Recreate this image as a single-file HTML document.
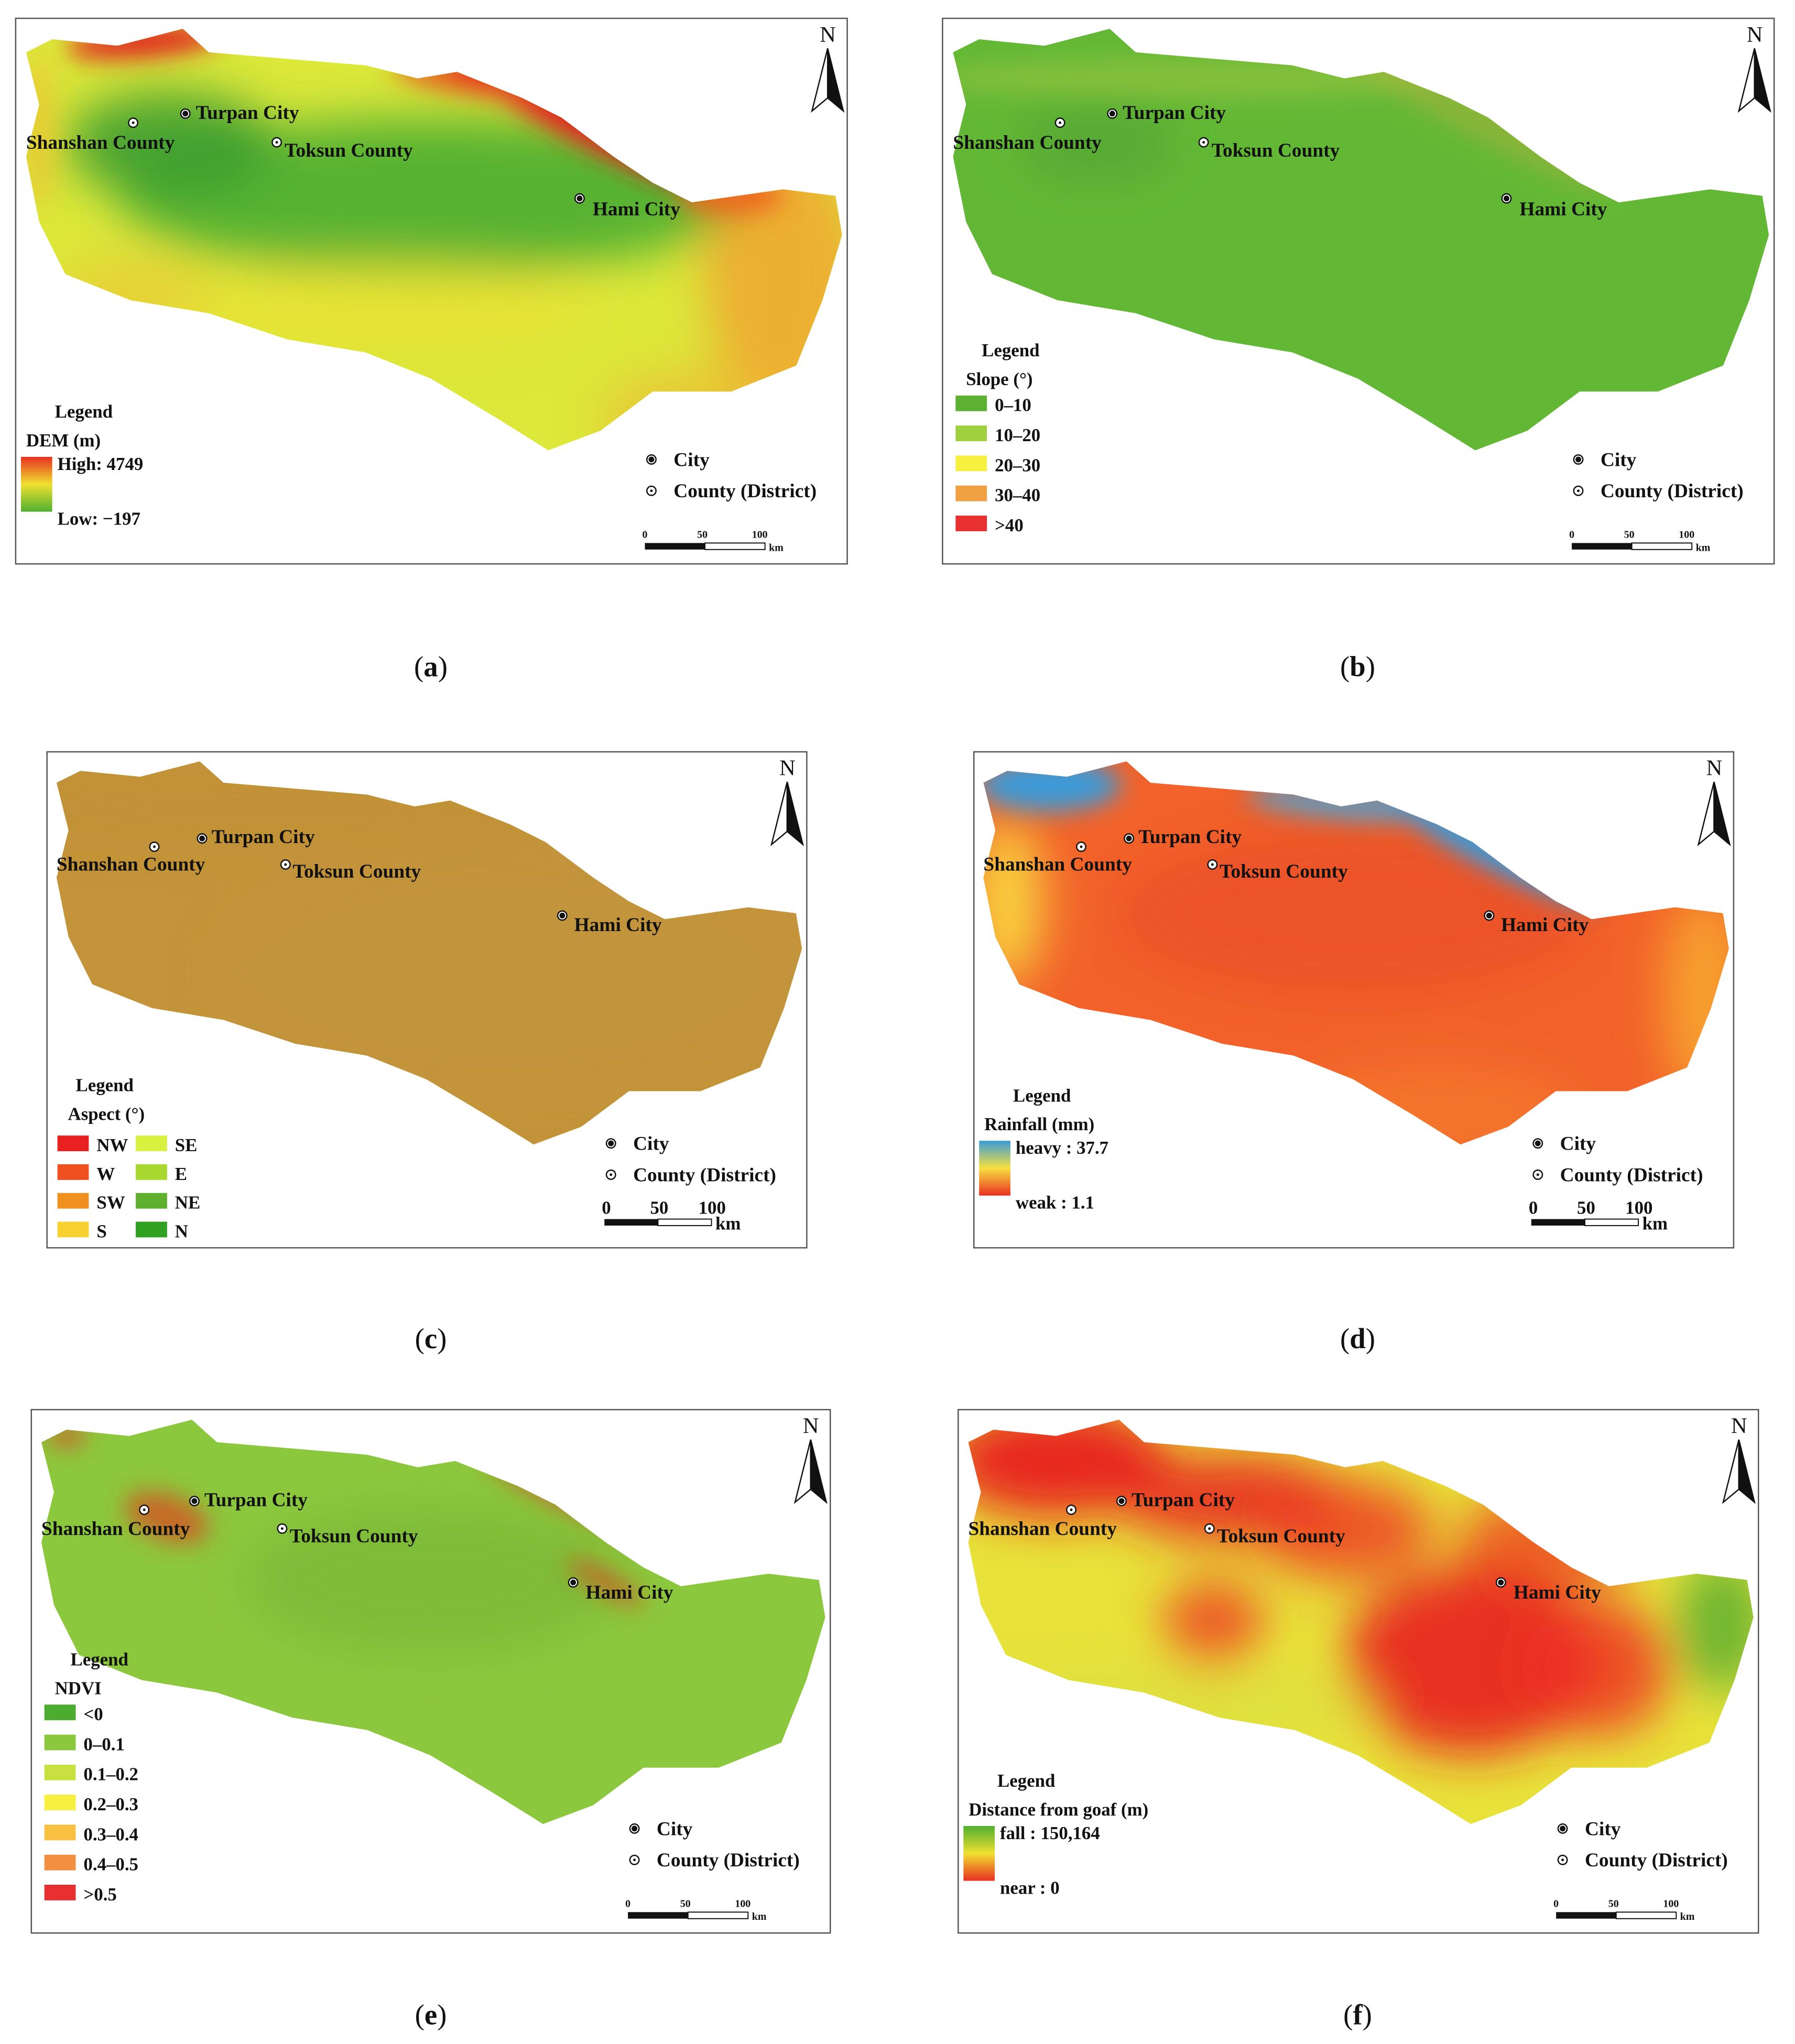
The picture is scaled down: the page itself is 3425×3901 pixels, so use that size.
<!DOCTYPE html>
<html><head><meta charset="utf-8"><style>
html,body{margin:0;padding:0;background:#fff}
svg{display:block}
text{font-family:"Liberation Serif",serif;font-weight:bold;fill:#111}
</style></head><body>
<svg id="fig" width="3425" height="3901" viewBox="0 0 1375 1566" xmlns="http://www.w3.org/2000/svg">
<defs>
<filter id="blur" x="-50%" y="-50%" width="200%" height="200%"><feGaussianBlur stdDeviation="18"/></filter>
<filter id="blur2" x="-50%" y="-50%" width="200%" height="200%"><feGaussianBlur stdDeviation="6"/></filter>
<filter id="blur3" x="-50%" y="-50%" width="200%" height="200%"><feGaussianBlur stdDeviation="9"/></filter>
</defs>
</svg>
<script>
const NS='http://www.w3.org/2000/svg';
const svg=document.getElementById('fig');
const shapeA=[[20,40],[40,30],[90,35],[140,22],[160,40],[220,45],[280,50],[320,60],[350,55],[400,75],[430,90],[470,120],[500,140],[530,155],[600,145],[640,150],[645,180],[630,230],[610,280],[560,300],[500,300],[460,330],[420,345],[380,320],[330,290],[280,270],[220,260],[160,240],[100,230],[50,210],[30,170],[20,120],[30,80]];
const panels=[
 {id:'a',x:12,y:14,w:637,h:418,cx:330,cy:518,base:'#dce83a'},
 {id:'b',x:722,y:14,w:637,h:418,cx:1040,cy:518,base:'#62b835'},
 {id:'c',x:36,y:576,w:582,h:380,cx:330,cy:1033,base:'#c4943a'},
 {id:'d',x:746,y:576,w:582,h:380,cx:1040,cy:1033,base:'#f2622a'},
 {id:'e',x:24,y:1080,w:612,h:401,cx:330,cy:1551,base:'#8cc83e'},
 {id:'f',x:734,y:1080,w:613,h:401,cx:1040,cy:1551,base:'#e8e23a'}];
// blobs: [x, y, rx, ry, color, opacity, angle, sharp]
const blobs={
 a:[[330,150,240,60,'#48ac30',0.9,0,0],[130,110,80,40,'#3a9c30',0.9,0,0],[600,210,60,100,'#f0a030',0.8,0,0],[300,235,160,35,'#eee030',0.6,0,0],
    [440,92,110,14,'#e02020',1,28,1],[360,62,60,10,'#e84020',0.9,10,1],[110,32,60,12,'#e02820',1,-5,1],[560,150,40,14,'#f06020',0.9,0,1],[560,320,100,40,'#f0b030',0.6,0,0],[100,225,60,25,'#f0c030',0.6,0,0],[30,100,14,60,'#f0c030',0.6,0,1]],
 b:[[200,60,200,15,'#a8c840',0.5,0,1],[420,90,120,14,'#c8b040',0.4,28,1],[130,110,60,30,'#4a9c30',0.5,0,0]],
 c:[[200,60,300,30,'#b88a30',0.3,0,0],[400,200,250,100,'#c09840',0.2,0,0]],
 d:[[75,42,60,22,'#3a9ad8',1,0,1],[320,58,80,12,'#48a4d8',0.9,5,1],[445,95,100,16,'#3a9ad8',1,28,1],[40,140,30,70,'#f8e040',0.9,0,0],[625,220,35,90,'#f8b030',0.8,0,0],[400,320,120,40,'#f89030',0.4,0,0],[330,150,200,70,'#e04020',0.4,0,0]],
 e:[[330,150,150,60,'#70b030',0.5,0,0],[440,82,70,10,'#e04020',0.8,25,1],[120,100,35,18,'#e04020',0.7,20,1],[470,152,35,8,'#e04020',0.7,30,1],[40,35,15,8,'#e04020',0.8,0,1]],
 f:[[90,55,90,45,'#e82020',0.95,0,0],[230,85,90,35,'#e82020',0.85,0,0],[320,110,70,40,'#ee3a20',0.8,0,0],[215,185,40,35,'#ee3a20',0.8,0,0],[420,215,100,75,'#e82020',0.9,0,0],[520,220,60,55,'#ee3020',0.8,0,0],[480,120,70,40,'#ee3020',0.7,0,0],[620,185,35,55,'#60b030',0.9,0,0],[150,250,200,30,'#d8e040',0.6,0,0]]};
const places=[
 {name:'Turpan City',dx:130,dy:73,lx:138,ly:77,city:true},
 {name:'Shanshan County',dx:90,dy:80,lx:8,ly:100,city:false},
 {name:'Toksun County',dx:200,dy:95,lx:206,ly:106,city:false},
 {name:'Hami City',dx:432,dy:138,lx:442,ly:151,city:true}];
function el(tag,attrs,parent){const e=document.createElementNS(NS,tag);for(const k in attrs)e.setAttribute(k,attrs[k]);(parent||svg).appendChild(e);return e;}
function txt(s,x,y,size,parent){const t=el('text',{x:x,y:y,'font-size':size},parent);t.textContent=s;return t;}
const legends={
 a:{title:['Legend','DEM (m)'],type:'ramp',stops:['#e83020','#f0e030','#50b030'],labels:['High: 4749','Low: \u2212197']},
 b:{title:['Legend','Slope (\u00b0)'],type:'boxes',colors:['#5cb032','#9ed040','#f8f040','#f0a040','#e83030'],labels:['0\u201310','10\u201320','20\u201330','30\u201340','>40']},
 c:{title:['Legend','Aspect (\u00b0)'],type:'boxes2',colors:['#e82020','#f05020','#f09020','#f8d030','#d8f040','#a8d830','#60b030','#30a020'],labels:['NW','W','SW','S','SE','E','NE','N']},
 d:{title:['Legend','Rainfall (mm)'],type:'ramp',stops:['#3a9ad8','#f8e040','#e83020'],labels:['heavy : 37.7','weak : 1.1']},
 e:{title:['Legend','NDVI'],type:'boxes',colors:['#4cac30','#8cc83e','#c8e040','#f8f040','#f8c040','#f09040','#e83030'],labels:['<0','0\u20130.1','0.1\u20130.2','0.2\u20130.3','0.3\u20130.4','0.4\u20130.5','>0.5']},
 f:{title:['Legend','Distance from goaf (m)'],type:'ramp',stops:['#50b030','#f0e030','#e83020'],labels:['fall : 150,164','near : 0']}};
panels.forEach(p=>{
 const g=el('g',{});
 
 
 const sx=p.w/637, sy=p.h/418;
 const X=v=>p.x+v*sx, Y=v=>p.y+v*sy;
 const fr=el('rect',{x:p.x,y:p.y,width:p.w,height:p.h,fill:'#fff',stroke:'#555','stroke-width':1},g);
 
 
 const pts=shapeA.map(q=>X(q[0]-12)+','+Y(q[1]-14)).join(' ');
 const cp=el('clipPath',{id:'clip'+p.id},g);
 el('polygon',{points:pts},cp);
 const rg=el('g',{'clip-path':'url(#clip'+p.id+')'},g);
 const base=el('polygon',{points:pts,fill:p.base},rg);
 
 
 const soft=el('g',{filter:'url(#blur)'},rg);
 const sharp=el('g',{filter:'url(#blur3)'},rg);
 blobs[p.id].forEach(b=>{const cx=X(b[0]-12),cy=Y(b[1]-14);
  el('ellipse',{cx:cx,cy:cy,rx:b[2]*sx,ry:b[3]*sy,fill:b[4],opacity:b[5],transform:`rotate(${b[6]} ${cx} ${cy})`},b[7]?sharp:soft);});
 places.forEach(pl=>{
  const m=el('g',{},g);
  
  
  const cx=X(pl.dx),cy=Y(pl.dy);
  el('circle',{cx:cx,cy:cy,r:3.5,fill:'#fff',stroke:'#111','stroke-width':1},m);
  el('circle',{cx:cx,cy:cy,r:pl.city?2.2:1,fill:'#111'},m);
  txt(pl.name,X(pl.lx),Y(pl.ly),15,m);
 });
 const na=el('g',{},g);
 
 
 const nx=p.x+p.w-15, ny=p.y+5;
 const nt=txt('N',nx-6,ny+13,17,na);nt.setAttribute('style','font-weight:normal');
 el('polygon',{points:`${nx},${ny+18} ${nx-12},${ny+66} ${nx},${ny+56}`,fill:'#fff',stroke:'#111'},na);
 el('polygon',{points:`${nx},${ny+18} ${nx+12},${ny+66} ${nx},${ny+56}`,fill:'#111',stroke:'#111'},na);
 const pl=el('g',{},g);
 
 
 const lx=p.x+p.w-150, ly=p.y+p.h-80;
 el('circle',{cx:lx,cy:ly,r:3.5,fill:'#fff',stroke:'#111'},pl);el('circle',{cx:lx,cy:ly,r:2.2,fill:'#111'},pl);
 txt('City',lx+17,ly+5,15,pl);
 el('circle',{cx:lx,cy:ly+24,r:3.5,fill:'#fff',stroke:'#111'},pl);el('circle',{cx:lx,cy:ly+24,r:1,fill:'#111'},pl);
 txt('County (District)',lx+17,ly+29,15,pl);
 const sb=el('g',{},g);
 
 
 const big=(p.id==='c'||p.id==='d');
 const bx=lx-5, by=p.y+p.h-(big?22:16), bw=big?82:92;
 el('rect',{x:bx,y:by,width:bw/2,height:5,fill:'#111'},sb);
 el('rect',{x:bx+bw/2,y:by,width:bw/2,height:5,fill:'#fff',stroke:'#111','stroke-width':0.8},sb);
 const fs=big?14:8;
 txt('0',bx-2,by-4,fs,sb);txt('50',bx+bw/2-6,by-4,fs,sb);txt('100',bx+bw-10,by-4,fs,sb);txt('km',bx+bw+3,by+(big?8:6),fs,sb);
 const L=legends[p.id];
 const lg=el('g',{},g);
 
 
 let tx=p.x+8, ty;
 if(L.type==='ramp'){
  ty=p.y+p.h-112;
  txt(L.title[0],tx+22,ty,14,lg);txt(L.title[1],tx,ty+22,14,lg);
  const gid='grad'+p.id;const gr=el('linearGradient',{id:gid,x1:0,y1:0,x2:0,y2:1},lg);
  L.stops.forEach((c,i)=>el('stop',{offset:i/(L.stops.length-1),'stop-color':c},gr));
  el('rect',{x:tx-4,y:ty+30,width:24,height:42,fill:'url(#'+gid+')'},lg);
  txt(L.labels[0],tx+24,ty+40,14,lg);txt(L.labels[1],tx+24,ty+82,14,lg);
 } else if(L.type==='boxes'){
  const n=L.colors.length; ty=p.y+p.h-(n*23)-44;
  txt(L.title[0],tx+22,ty,14,lg);txt(L.title[1],tx+10,ty+22,14,lg);
  L.colors.forEach((c,i)=>{el('rect',{x:tx+2,y:ty+40+i*23-10,width:24,height:12,fill:c},lg);txt(L.labels[i],tx+32,ty+40+i*23+2,14,lg);});
 } else {
  ty=p.y+p.h-120;
  txt(L.title[0],tx+14,ty,14,lg);txt(L.title[1],tx+8,ty+22,14,lg);
  L.colors.forEach((c,i)=>{const col=Math.floor(i/4),row=i%4;const xx=tx+col*60,yy=ty+44+row*22;
   el('rect',{x:xx,y:yy-10,width:24,height:12,fill:c},lg);txt(L.labels[i],xx+30,yy+2,14,lg);});
 }
 const cap=el('text',{x:p.cx,y:p.cy,'font-size':22,'text-anchor':'middle'},svg);
 
 
 cap.setAttribute('style','font-weight:normal');
 cap.innerHTML='(<tspan style="font-weight:bold">'+p.id+'</tspan>)';
});
</script>
</body></html>
